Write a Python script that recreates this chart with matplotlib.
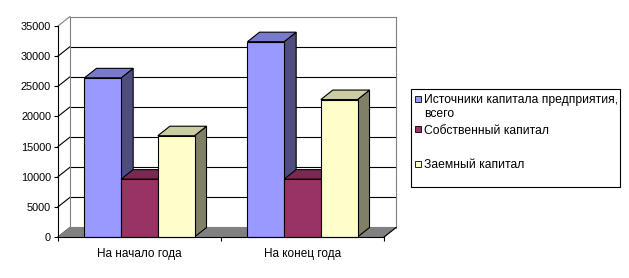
import matplotlib
matplotlib.use("Agg")
import matplotlib.pyplot as plt
from matplotlib.patches import Polygon, Rectangle

plt.rcParams['font.family'] = ['Liberation Sans', 'DejaVu Sans']

# data
categories = ["На начало года", "На конец года"]
series_names = ["Источники капитала предприятия,\nвсего",
                "Собственный капитал",
                "Заемный капитал"]
total_capital = [26400, 32400]
own_capital = [9600, 9600]
borrowed_capital = [16800, 22800]
y_ticks = [0, 5000, 10000, 15000, 20000, 25000, 30000, 35000]

# (front, top, side) colours, Excel 2003 style
colors = [("#9999FF", "#7A7ACC", "#4D4D80"),
          ("#993366", "#7A2952", "#4D1A33"),
          ("#FFFFCC", "#CCCCA3", "#808066")]

W, H = 629, 278
fig = plt.figure(figsize=(W / 100, H / 100), dpi=100)
fig.patch.set_facecolor("white")

# front plane of the plot area, in pixels
left_px, top_px, right_px, bottom_px = 58, 26, 384, 237
ax = fig.add_axes([left_px / W, 1 - bottom_px / H,
                   (right_px - left_px) / W, (bottom_px - top_px) / H])
ymax = 35000
ncat = len(categories)
ax.set_xlim(0, ncat)
ax.set_ylim(0, ymax)
ax.patch.set_visible(False)

# depth offset of the 3d box converted to data units
depth_x_px, depth_y_px = 12, 9.5
ddx = depth_x_px * ncat / (right_px - left_px)
ddy = depth_y_px * ymax / (bottom_px - top_px)

lw = 0.8
grey = "#808080"

# back wall gridlines + left wall diagonals
for v in y_ticks:
    c = grey if v == ymax else "black"
    if v > 0:
        ax.plot([ddx, ncat + ddx], [v + ddy, v + ddy], color=c, lw=lw,
                clip_on=False, zorder=1)
    ax.plot([0, ddx], [v, v + ddy], color=c, lw=lw, clip_on=False, zorder=1)
# back wall borders
ax.plot([ddx, ddx], [ddy, ymax + ddy], color=grey, lw=lw, clip_on=False, zorder=1)
ax.plot([ncat + ddx, ncat + ddx], [ddy, ymax + ddy], color=grey, lw=lw,
        clip_on=False, zorder=1)

# floor
floor = Polygon([(0, 0), (ncat, 0), (ncat + ddx, ddy), (ddx, ddy)],
                closed=True, facecolor=grey, edgecolor=grey, lw=lw,
                clip_on=False, zorder=2)
ax.add_patch(floor)
ax.plot([ncat, ncat + ddx], [0, ddy], color="black", lw=lw, clip_on=False, zorder=2)

# bars
series = [total_capital, own_capital, borrowed_capital]
bw = 0.225
for ci in range(ncat):
    for si, vals in enumerate(series):
        x0 = ci + 0.5 + (si - 1.5) * bw
        x1 = x0 + bw
        h = vals[ci]
        front, top, side = colors[si]
        z = 3 + ci * 3 + si
        ax.add_patch(Polygon([(x1, 0), (x1 + ddx, ddy), (x1 + ddx, h + ddy), (x1, h)],
                             closed=True, facecolor=side, edgecolor="black",
                             lw=lw, clip_on=False, zorder=z))
        ax.add_patch(Polygon([(x0, h), (x1, h), (x1 + ddx, h + ddy), (x0 + ddx, h + ddy)],
                             closed=True, facecolor=top, edgecolor="black",
                             lw=lw, clip_on=False, zorder=z))
        ax.bar(x0, h, width=bw, align="edge", color=front, edgecolor="black",
               lw=lw, zorder=z + 0.5, clip_on=False)

# axes styling
for s in ["top", "right"]:
    ax.spines[s].set_visible(False)
ax.spines["left"].set_linewidth(lw)
ax.spines["bottom"].set_linewidth(lw)
ax.spines["left"].set_zorder(20)
ax.spines["bottom"].set_zorder(20)
ax.set_yticks(y_ticks)
ax.set_yticklabels([str(v) for v in y_ticks])
ax.set_xticks(range(ncat + 1))
ax.set_xticklabels([""] * (ncat + 1))
ax.set_xticks([i + 0.5 for i in range(ncat)], minor=True)
ax.set_xticklabels(categories, minor=True)
ax.tick_params(axis="y", direction="out", length=3, width=lw, pad=2, labelsize=7.8)
ax.tick_params(axis="x", which="major", direction="out", length=3, width=lw)
ax.tick_params(axis="x", which="minor", length=0, pad=8, labelsize=8.5)

# legend box
lx0, ly0, lx1, ly1 = 411, 89, 620, 187
fig.patches.append(Rectangle((lx0 / W, 1 - ly1 / H), (lx1 - lx0) / W, (ly1 - ly0) / H,
                             transform=fig.transFigure, facecolor="white",
                             edgecolor="black", lw=lw))
entry_y = [99, 129, 164]
for (front, _, _), name, ey in zip(colors, series_names, entry_y):
    fig.patches.append(Rectangle((415 / W, 1 - (ey + 3) / H), 6 / W, 6 / H,
                                 transform=fig.transFigure, facecolor=front,
                                 edgecolor="black", lw=0.6))
    fig.text(424 / W, 1 - (ey - 4.5) / H, name, fontsize=8.7, va="top", ha="left",
             linespacing=1.15)

fig.savefig("out.png", dpi=100)
